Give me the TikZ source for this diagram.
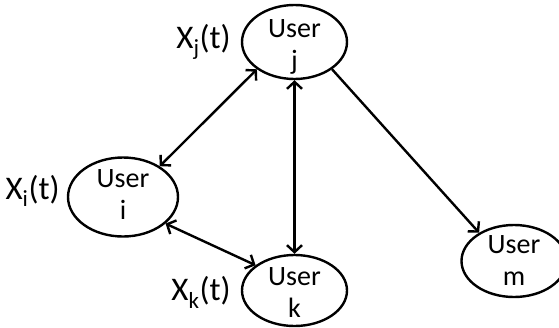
\documentclass[tikz,border=0pt]{standalone}
\usepackage{fontspec}
\setmainfont{Carlito}
\usetikzlibrary{shapes.geometric, arrows.meta, positioning}

\newcommand{\userfont}{\fontsize{28}{32}\selectfont}
\newcommand{\statefont}{\fontsize{33}{38}\selectfont}

\begin{document}
\begin{tikzpicture}[x=1pt, y=-1pt, node distance=9pt, line width=2.4pt]

\tikzstyle{user}=[ellipse,draw,minimum width=105pt,minimum height=72pt,inner sep=0pt]
\tikzstyle{usertext}=[align=center,font=\userfont,inner sep=0pt]
\tikzstyle{state}=[font=\statefont,inner sep=0pt]
\tikzstyle{link}=[>={Straight Barb[length=7pt,width=15pt]}]

\useasboundingbox (0,0) rectangle (559,327);

\node[user,minimum height=74pt,label={[usertext,yshift=-5pt]center:User\\j}] (userj) at (294.5,42) {};
\node[user,minimum width=110pt,minimum height=79pt,label={[usertext,yshift=2pt]center:User\\i}] (useri) at (123,197) {};
\node[user,minimum height=71pt,label={[usertext,yshift=-2pt]center:User\\k}] (userk) at (294.5,290.5) {};
\node[user,minimum height=72pt,label={[usertext]center:User\\m}] (userm) at (514,261) {};

\node[state] (xj) [left = of userj] {X\textsubscript{j}(t)};
\node[state] (xi) [left = 6pt of useri, yshift=6pt] {X\textsubscript{i}(t)};
\node[state] (xk) [left = of userk, yshift=-2pt] {X\textsubscript{k}(t)};

\draw[link,<->](useri.40)--(userj.216);
\draw[link,<->](useri.-32)--(userk.147);
\draw[link,<->](userj.south)--(userk.north);
\draw[link,->](userj.-36)--(userm.141);
\end{tikzpicture}
\end{document}
